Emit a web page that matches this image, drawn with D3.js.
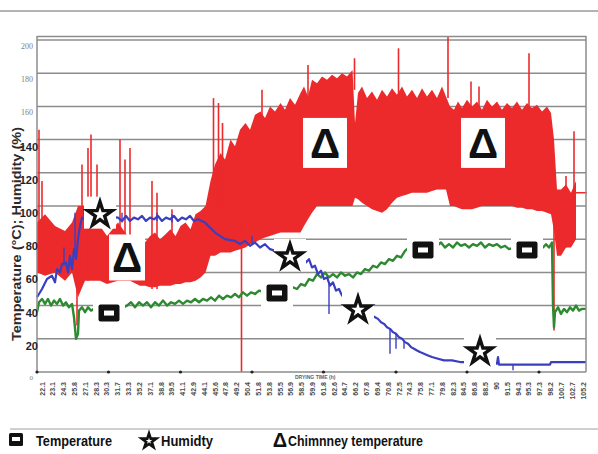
<!DOCTYPE html>
<html>
<head>
<meta charset="utf-8">
<script src="https://cdn.jsdelivr.net/npm/d3@7"></script>
<style>
body { margin: 0; background: #fff; }
svg { display: block; }
</style>
</head>
<body>
<svg id="chart" width="598" height="454"></svg>
<script>
// chimney temperature band: [time, low, high]
var redBand = [[0,60,90],[1.6,58,95],[3.6,60,88],[5.6,55,85],[7,60,90],[8.2,45,100],[9.6,55,100],[11.6,55,95],
	[12.6,55,88],[14,53,82],[16.2,55,90],[18.6,55,80],[20.6,52,75],[21.6,52,78],[22.6,51,82],[23.6,51,84],
	[24.6,52,80],[25.7,52,83],[26.7,52,86],[27.7,53,82],[28.7,53,88],[29.7,54,90],[30.7,54,86],[31.7,55,95],
	[32.7,57,97],[33.7,60,100],[34.7,70,115],[35.6,70,125],[36.7,72,132],[37.6,72,128],[38.7,72,140],
	[39.6,73,136],[40.6,74,146],[41.7,75,150],[42.6,77,146],[43.6,78,155],[44.7,80,157],[45.6,81,153],
	[46.6,82,160],[47.6,83,157],[48.7,84,162],[49.6,84,158],[50.6,84,165],[51.6,84,161],[52.7,84,168],
	[53.4,88,172],[54.2,92,166],[55,96,176],[56,100,174],[57,100,178],[58,100,176],[59,100,179],[60,100,177],
	[61,100,180],[62,100,178],[63.1,100,182],[63.6,105,150],[64.2,104,168],[65,102,172],[66,100,165],
	[67,98,169],[68,97,164],[69,96,170],[70,98,166],[71,102,171],[72,105,167],[73,106,172],[74,107,166],
	[75,108,170],[76,108,165],[77,108,171],[78,108,166],[79,109,170],[80,110,165],[81,110,172],[81.8,110,166],
	[82.6,100,160],[83.4,100,158],[84.2,99,163],[85,98,159],[86,98,164],[87,98,160],[88,99,163],[89,100,158],
	[90,100,164],[91,100,160],[92,100,163],[93,100,158],[94,100,162],[95,100,159],[96,99,163],[97,99,158],
	[98,98,162],[99,98,159],[100,97,161],[101,97,157],[102,96,160],[102.8,95,156],[103.4,85,140],[104,70,110],
	[104.8,70,110],[105.8,75,113],[106.8,75,108],[107.8,80,115]];
// single spikes of chimney temperature: [time, from, to]
var redSpikes = [[0.4,60,146],[1,60,115],[8,28,62],[9,60,125],[10.2,55,135],[10.8,60,143],[12,60,125],
	[16.6,80,140],[17.6,80,128],[18.6,75,135],[23,50,115],[24,50,108],[27,55,98],[35.3,90,165],[36.3,90,162],
	[37.1,100,150],[40.9,0,90],[45,150,170],[54.2,165,185],[63.5,170,189],[72.3,165,195],[82.2,165,202],
	[86.8,160,175],[88.4,160,172],[98.4,155,192],[103.4,25,100],[105.8,75,118],[107.4,80,145]];
var redTail = [[107.8,108],[110,108]];

// temperature: [time, value]
var greenTemp = [[0,36],[0.4,42],[1,44],[1.6,41],[2.2,44],[2.8,40],[3.4,43],[4,41],[4.6,44],[5.2,40],[5.8,42],
	[6.4,39],[7,41],[7.4,33],[7.8,20],[8.2,23],[8.4,37],[9,39],[9.6,36],[10.2,39],[10.8,37],[11.4,38],[12.6,37],
	[14.6,38],[16.6,38],[18,40],[18.8,42],[19.6,39],[20.4,42],[21.2,40],[22,42],[22.8,39],[23.6,42],[24.4,40],
	[25.2,43],[26,40],[26.8,42],[27.6,41],[28.4,43],[29.2,41],[30,43],[30.8,42],[31.6,44],[32.4,42],[33.2,44],
	[34,43],[34.8,45],[35.6,43],[36.4,46],[37.2,44],[38,46],[38.8,45],[39.6,47],[40.4,45],[41.2,48],[42,46],
	[42.8,48],[43.6,47],[44.4,49],[45.6,48],[48.6,50],[51.2,51],[52,50],[52.8,53],[53.6,52],[54.4,56],[55.2,55],
	[56,59],[56.8,57],[57.6,60],[58.4,57],[59.2,59],[60,57],[60.8,60],[61.6,58],[62.4,59],[63.2,57],[64,60],
	[64.8,59],[65.6,62],[66.4,61],[67.2,64],[68,63],[68.8,66],[69.6,65],[70.4,68],[71.2,67],[72,70],[72.8,69],
	[73.6,73],[74.4,75],[76.6,76],[80,76],[80.8,78],[81.6,75],[82.4,77],[83.2,75],[84,78],[84.8,76],[85.6,77],
	[86.4,75],[87.2,77],[88,76],[88.8,78],[89.6,75],[90.4,77],[91.2,76],[92,77],[92.8,75],[93.6,76],[94.4,74],
	[96.6,76],[101.2,75],[101.8,77],[102.4,75],[103,78],[103.2,40],[103.4,27],[103.6,36],[104.2,39],[104.8,35],
	[105.4,38],[106,36],[106.6,39],[107.2,37],[107.8,40],[108.4,37],[109,38],[109.8,38]];

// humidity: [time, value]
var blueHum = [[0,45],[1,50],[2,56],[3,58],[3.6,54],[4,62],[4.6,60],[5,65],[5.8,66],[6.2,60],[6.6,70],[7,62],
	[7.4,74],[7.8,68],[8.2,80],[8.6,88],[9,93],[9.6,92],[10.6,95],[12.6,94],[16.2,93],[17,91],[17.8,94],[18.6,91],
	[19.4,93],[20.2,92],[21,94],[21.8,91],[22.6,93],[23.4,92],[24.2,94],[25,91],[25.8,93],[26.6,92],[27.4,94],
	[28.2,91],[29,93],[29.8,92],[30.6,94],[31.4,91],[32.2,92],[33.6,90],[35.6,84],[37.6,80],[39.6,79],[40.6,77],
	[41.6,79],[42.6,76],[43.6,78],[44.6,75],[45.6,77],[46.6,74],[50.6,70],[53.2,69],[53.8,66],[54.4,68],[55,63],
	[55.6,64],[56.2,59],[56.8,61],[57.4,56],[58,57],[58.6,52],[59.2,54],[59.8,49],[60.4,50],[61,46],[61.6,45],
	[64.6,38],[67.6,33],[68.2,32],[68.8,30],[69.4,29],[70,27],[70.6,26],[71.2,24],[71.8,23],[72.4,21],[73,20],
	[73.6,18],[74.2,17],[74.8,15],[75.4,14],[76,13],[76.6,12],[77.4,11],[78.2,10],[79,9],[80.2,8],[81.4,7],
	[83,7],[84.6,6],[86.6,6],[92,5],[92.2,9],[92.4,4.5],[102.6,4.5],[102.8,6],[109.8,6]];
var blueSpikes = [[5.4,64,75],[7.6,70,96],[9.4,93,98],[14,92,98],[17,90,96],[24,91,96],[27,90,95],[43,77,82],
	[58.4,53,35],[62,45,40],[70.6,26,11],[71.8,23,14],[73.4,19,14],[95.2,4.5,1]];

// symbols laid over the curves: [time, value, kind]
var markers = [[12.6,96,'star'],[18,69,'delta'],[14.4,35.5,'square'],[50.6,70.5,'star'],[48,47.6,'square'],
	[57.6,138,'bigdelta'],[89.2,138,'bigdelta'],[77.2,73.5,'square'],[98,73.5,'square'],
	[64.2,38.6,'star'],[88.6,13.3,'star']];

var gridVals = [20,40,60,80,100,120,140,160,180,200];
var yTicksSmall = [200,180,160];
var yTicksBold = [140,120,100,80,60,40,20];
var xDots = [0,14.3,28.7,43,57.3,71.8,86,100.4];
var xLabels = ['22.1','23.1','24.3','25.8','27.1','28.3','30.3','31.7','33.3','35.2','37.1','38.8','39.5',
	'41.1','42.9','44.1','45.6','47.8','49.2','50.4','51.8','53.8','55.5','56.9','58.5','59.9','61.8','62.6',
	'64.7','66.2','67.8','69.4','70.8','72.5','74.3','75.8','77.1','79.8','82.3','84.5','86.8','88.5','90',
	'91.5','94.3','95.3','97.3','98.2','100.7','102.7','105.2'];

var RED = '#ec2a2c', GREEN = '#2e8a30', BLUE = '#3a3fc0';

var svg = d3.select('#chart');
var x = d3.scaleLinear().domain([0,110]).range([37,587]);
var y = d3.scaleLinear().domain([0,200]).range([372,40]);

//top rule
svg.append('line').attr('x1',0).attr('x2',598).attr('y1',11).attr('y2',11)
	.attr('stroke','#9a9a9a').attr('stroke-width',1.5);

//grid
svg.append('g').selectAll('line').data(gridVals).enter().append('line')
	.attr('x1',37).attr('x2',586)
	.attr('y1',function(d){ return y(d); }).attr('y2',function(d){ return y(d); })
	.attr('stroke','#8c8c8c').attr('stroke-width',1.5);

//chimney temperature
var area = d3.area()
	.x(function(d){ return x(d[0]); })
	.y0(function(d){ return y(d[1]); })
	.y1(function(d){ return y(d[2]); });
svg.append('path').datum(redBand).attr('d',area).attr('fill',RED);
svg.append('g').selectAll('line').data(redSpikes).enter().append('line')
	.attr('x1',function(d){ return x(d[0]); }).attr('x2',function(d){ return x(d[0]); })
	.attr('y1',function(d){ return y(d[1]); }).attr('y2',function(d){ return y(d[2]); })
	.attr('stroke',RED).attr('stroke-width',1.6);
var line = d3.line().x(function(d){ return x(d[0]); }).y(function(d){ return y(d[1]); });
svg.append('path').datum(redTail).attr('d',line).attr('fill','none').attr('stroke',RED).attr('stroke-width',1.5);

//temperature + humidity
svg.append('path').datum(greenTemp).attr('d',line).attr('fill','none')
	.attr('stroke',GREEN).attr('stroke-width',2.4).attr('stroke-linejoin','round');
svg.append('path').datum(blueHum).attr('d',line).attr('fill','none')
	.attr('stroke',BLUE).attr('stroke-width',2.2).attr('stroke-linejoin','round');
svg.append('g').selectAll('line').data(blueSpikes).enter().append('line')
	.attr('x1',function(d){ return x(d[0]); }).attr('x2',function(d){ return x(d[0]); })
	.attr('y1',function(d){ return y(d[1]); }).attr('y2',function(d){ return y(d[2]); })
	.attr('stroke',BLUE).attr('stroke-width',1.4);

//frame
svg.append('line').attr('x1',37).attr('x2',586).attr('y1',36.5).attr('y2',36.5).attr('stroke','#8c8c8c').attr('stroke-width',1.5);
svg.append('line').attr('x1',586).attr('x2',586).attr('y1',36).attr('y2',372).attr('stroke','#8c8c8c').attr('stroke-width',1.5);
svg.append('line').attr('x1',37).attr('x2',37).attr('y1',36).attr('y2',373).attr('stroke','#8c8c8c').attr('stroke-width',1.5);
svg.append('line').attr('x1',37).attr('x2',586).attr('y1',y(0)).attr('y2',y(0)).attr('stroke','#8c8c8c').attr('stroke-width',1.5);
svg.append('g').selectAll('circle').data(xDots).enter().append('circle')
	.attr('cx',function(d){ return x(d); }).attr('cy',y(0)).attr('r',1.6).attr('fill','#222');

//markers
var boxSize = { star:[32,32], delta:[36,46], square:[32,30], bigdelta:[44,50] };
var mk = svg.append('g').selectAll('g').data(markers).enter().append('g')
	.attr('transform',function(d){ return 'translate(' + x(d[0]) + ',' + y(d[1]) + ')'; });
mk.append('rect')
	.attr('x',function(d){ return -boxSize[d[2]][0]/2; })
	.attr('y',function(d){ return -boxSize[d[2]][1]/2; })
	.attr('width',function(d){ return boxSize[d[2]][0]; })
	.attr('height',function(d){ return boxSize[d[2]][1]; })
	.attr('fill','#fff');
mk.each(function(d){
	var g = d3.select(this);
	if (d[2] == 'star') {
		g.append('path').attr('d',d3.symbol(d3.symbolStar,185)())
			.attr('transform','translate(0,2)')
			.attr('fill','#fff').attr('stroke','#111').attr('stroke-width',3.4).attr('stroke-linejoin','miter');
	} else if (d[2] == 'square') {
		g.append('rect').attr('x',-10.5).attr('y',-8.5).attr('width',21).attr('height',17).attr('rx',2)
			.attr('fill','#111');
		g.append('rect').attr('x',-5).attr('y',-2.5).attr('width',10).attr('height',5).attr('fill','#fff');
	} else {
		g.append('text').attr('text-anchor','middle').attr('y',15)
			.attr('font-family','Liberation Sans, Arial, sans-serif').attr('font-weight','700')
			.attr('font-size','42px').attr('fill','#111').text('\u0394');
	}
});

//y labels
svg.append('g').selectAll('text').data(yTicksSmall).enter().append('text')
	.attr('x',33).attr('y',function(d){ return y(d) + 9; }).attr('text-anchor','end')
	.attr('font-family','Liberation Serif, Times New Roman, serif').attr('font-size','8px')
	.attr('fill','#808080').text(function(d){ return d; });
svg.append('g').selectAll('text').data(yTicksBold).enter().append('text')
	.attr('x',38).attr('y',function(d){ return y(d) + 11; }).attr('text-anchor','end')
	.attr('font-family','Liberation Sans, Arial, sans-serif').attr('font-weight','700').attr('font-size','11px')
	.attr('fill','#1e1e2e').text(function(d){ return d; });
svg.append('text').attr('x',33).attr('y',y(0) + 8).attr('text-anchor','end')
	.attr('font-family','Liberation Serif, serif').attr('font-size','7px').attr('fill','#888').text('0');

svg.append('text')
	.attr('transform','translate(21,234) rotate(-90)')
	.attr('text-anchor','middle')
	.attr('font-family','Liberation Sans, Arial, sans-serif').attr('font-weight','700').attr('font-size','12px')
	.attr('textLength',214).attr('lengthAdjust','spacingAndGlyphs')
	.attr('fill','#2e2a28').text('Temperature (\u00b0C); Humidity (%)');

//x labels
var xp = d3.scalePoint().domain(xLabels).range([42,583]);
svg.append('g').selectAll('text').data(xLabels).enter().append('text')
	.attr('transform',function(d){ return 'translate(' + (xp(d) + 2.5) + ',382) rotate(-90)'; })
	.attr('text-anchor','end')
	.attr('font-family','Liberation Sans, Arial, sans-serif').attr('font-weight','700').attr('font-size','7px')
	.attr('fill','#4a4a4a').text(function(d){ return d; });
svg.append('text').attr('x',295).attr('y',379)
	.attr('font-family','Liberation Sans, Arial, sans-serif').attr('font-weight','700').attr('font-size','5px')
	.attr('fill','#56627e').text('DRYING TIME (h)');

//legend
svg.append('line').attr('x1',10).attr('x2',598).attr('y1',429).attr('y2',429)
	.attr('stroke','#a0a0a0').attr('stroke-width',1);
svg.append('rect').attr('x',9).attr('y',433).attr('width',14).attr('height',13).attr('rx',1.5).attr('fill','#111');
svg.append('rect').attr('x',12).attr('y',437).attr('width',8).attr('height',4).attr('fill','#fff');
svg.append('path').attr('d',d3.symbol(d3.symbolStar,66)())
	.attr('transform','translate(149,441)')
	.attr('fill','#fff').attr('stroke','#111').attr('stroke-width',2.6);
svg.append('text').attr('x',280).attr('y',447).attr('text-anchor','middle')
	.attr('font-family','Liberation Sans, Arial, sans-serif').attr('font-weight','700').attr('font-size','20px')
	.attr('fill','#111').text('\u0394');
var legendText = [['Temperature',36,76],['Humidty',161,52],['Chimnney temperature',288,135]];
svg.append('g').selectAll('text').data(legendText).enter().append('text')
	.attr('x',function(d){ return d[1]; }).attr('y',446)
	.attr('textLength',function(d){ return d[2]; }).attr('lengthAdjust','spacingAndGlyphs')
	.attr('font-family','Liberation Sans, Arial, sans-serif').attr('font-weight','700').attr('font-size','14.5px')
	.attr('fill','#111').text(function(d){ return d[0]; });
</script>
</body>
</html>
